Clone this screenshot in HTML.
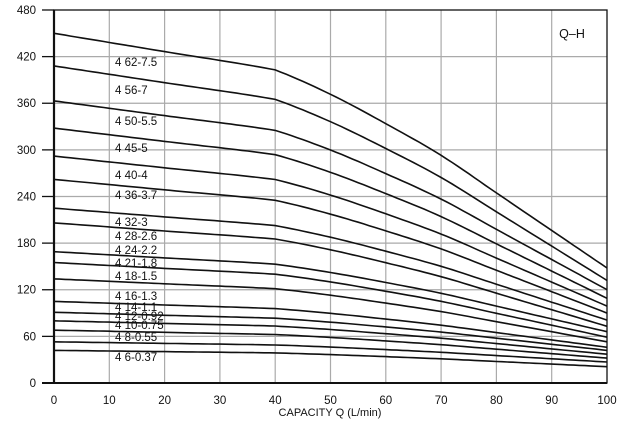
<!DOCTYPE html>
<html><head><meta charset="utf-8"><style>
html,body{margin:0;padding:0;background:#fff;}
svg{display:block;font-family:"Liberation Sans",Arial,sans-serif;}
</style></head><body>
<svg id="c" width="621" height="430" viewBox="0 0 621 430" xmlns="http://www.w3.org/2000/svg">
<rect width="621" height="430" fill="#fff"/>
<g id="grid" stroke="#aaa" stroke-width="1.2"></g>
<g id="curves" fill="none" stroke="#111" stroke-width="1.6"></g>
<g id="labels" font-size="11.5" fill="#111"></g>
<g id="axes"></g>
<text x="572" y="38" font-size="12.5" text-anchor="middle" fill="#111">Q–H</text>
<text x="330" y="416" font-size="11" text-anchor="middle" fill="#111">CAPACITY  Q (L/min)</text>
</svg>
<script>
var NS="http://www.w3.org/2000/svg";
function X(q){return 54+q*5.53;}
function Y(h){return 383-h*0.7771;}
function el(t,a,p,txt){var e=document.createElementNS(NS,t);for(var k in a)e.setAttribute(k,a[k]);if(txt!=null)e.textContent=txt;p.appendChild(e);return e;}
var g=document.getElementById('grid'),ax=document.getElementById('axes');
for(var q=10;q<100;q+=10)el('line',{x1:X(q),y1:10,x2:X(q),y2:383},g);
for(var h=60;h<480;h+=60)el('line',{x1:54,y1:Y(h),x2:607,y2:Y(h)},g);
el('rect',{x:54,y:10,width:553,height:373,fill:'none',stroke:'#111','stroke-width':1.3},ax);
el('line',{x1:54,y1:10,x2:54,y2:384,stroke:'#111','stroke-width':2.2},ax);
el('line',{x1:42,y1:383,x2:607,y2:383,stroke:'#111','stroke-width':2},ax);
for(var h=0;h<=480;h+=60){el('line',{x1:42,y1:Y(h),x2:54,y2:Y(h),stroke:'#111','stroke-width':1.3},ax);
 el('text',{x:36,y:Y(h)+4,'font-size':11.5,'text-anchor':'end',fill:'#111'},ax,String(h));}
for(var q=0;q<=100;q+=10)el('text',{x:X(q),y:404,'font-size':11.5,'text-anchor':'middle',fill:'#111'},ax,String(q));
var sq=[0,20,40,50,60,70,80,90,100],sv=[0,.078,.156,.26,.385,.52,.68,.84,1];
function s(q){var n=sq.length;for(var i=1;i<n;i++){if(q<=sq[i]){var a=i-1,b=i;var t=(q-sq[a])/(sq[b]-sq[a]);
 var p0=sv[Math.max(a-1,0)],p1=sv[a],p2=sv[b],p3=sv[Math.min(b+1,n-1)];
 if(a==0)p0=p1-(p2-p1); if(b==n-1)p3=p2+(p2-p1);
 return 0.5*((2*p1)+(-p0+p2)*t+(2*p0-5*p1+4*p2-p3)*t*t+(-p0+3*p1-3*p2+p3)*t*t*t);}}return 1;}
var H0=[450,408,363,328,292,262,225,206,169,155,134,105,91,80,68,53,42];
var H1=[148,132,120,109,99,90,81,73,66,59,53,46,42,37,32,27,21];
var cg=document.getElementById('curves');
for(var i=0;i<H0.length;i++){var d='';for(var q=0;q<=100;q+=1){var h=H0[i]-(H0[i]-H1[i])*s(q);d+=(q?'L':'M')+X(q).toFixed(1)+' '+Y(h).toFixed(1);}
 el('path',{d:d},cg);}
var L=[["4 62-7.5",62],["4 56-7",90],["4 50-5.5",121],["4 45-5",148],["4 40-4",175],["4 36-3.7",195],["4 32-3",222],["4 28-2.6",236],["4 24-2.2",250],["4 21-1.8",263],["4 18-1.5",276],["4 16-1.3",296],["4 14-1.1",307],["4 12-0.92",316],["4 10-0.75",325],["4 8-0.55",337],["4 6-0.37",357]];
var lg=document.getElementById('labels');
L.forEach(function(l){el('text',{x:115,y:l[1]+4},lg,l[0]);});
</script>
</body></html>
